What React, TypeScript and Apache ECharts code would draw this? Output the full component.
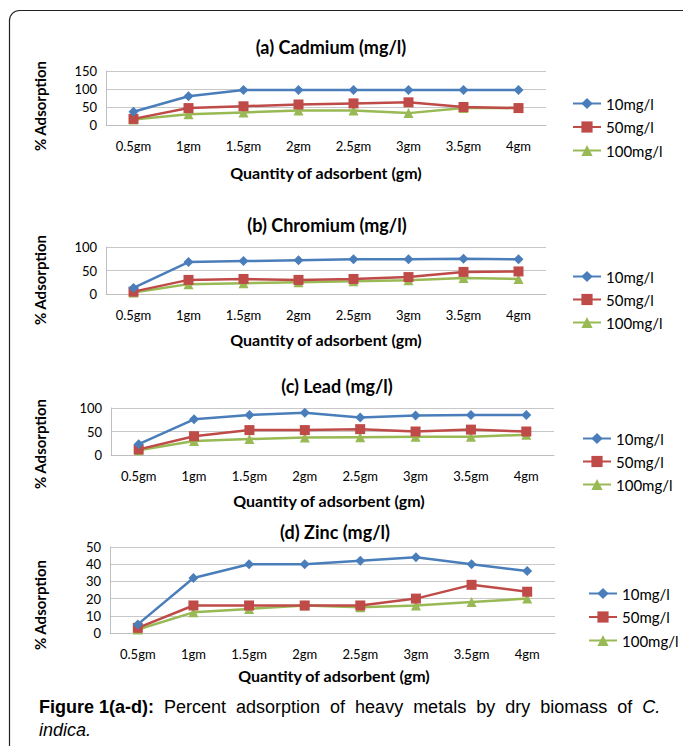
import React, { useEffect, useRef } from "react";
import * as echarts from "echarts";

const categories = ["0.5gm", "1gm", "1.5gm", "2gm", "2.5gm", "3gm", "3.5gm", "4gm"];
const seriesNames = ["10mg/l", "50mg/l", "100mg/l"];

const cadmium10 = [37, 80, 97, 97, 97, 97, 97, 97];
const cadmium50 = [17, 47, 52, 57, 60, 63, 50, 47];
const cadmium100 = [15, 30, 35, 40, 40, 33, 47, 47];

const chromium10 = [13, 68, 70, 72, 74, 74, 75, 74];
const chromium50 = [5, 30, 32, 30, 32, 36, 47, 48];
const chromium100 = [3, 21, 23, 25, 27, 29, 34, 32];

const lead10 = [23, 76, 85, 90, 80, 84, 85, 85];
const lead50 = [12, 40, 53, 53, 55, 50, 54, 50];
const lead100 = [10, 30, 34, 37, 38, 39, 39, 43];

const zinc10 = [5, 32, 40, 40, 42, 44, 40, 36];
const zinc50 = [3, 16, 16, 16, 16, 20, 28, 24];
const zinc100 = [2, 12, 14, 16, 15, 16, 18, 20];

const panelTitles = ["(a) Cadmium (mg/l)", "(b) Chromium (mg/l)", "(c) Lead (mg/l)", "(d) Zinc (mg/l)"];
const yMax = [150, 100, 100, 50];
const yInterval = [50, 50, 50, 10];
const xAxisTitle = "Quantity of adsorbent (gm)";
const yAxisTitle = "% Adsorption";
const captionWords = ["Percent", "adsorption", "of", "heavy", "metals", "by", "dry", "biomass", "of"];

const panelData = [
  [cadmium10, cadmium50, cadmium100],
  [chromium10, chromium50, chromium100],
  [lead10, lead50, lead100],
  [zinc10, zinc50, zinc100],
];

const COLORS = ["#4A7EBB", "#BE4B48", "#98B954"];
const SYMBOLS = ["diamond", "rect", "triangle"];
const SYMBOL_SIZES = [10, 10, 10];

// layout per panel
const grids = [
  { left: 106, width: 440, top: 71, height: 54 },
  { left: 106, width: 440, top: 247, height: 47 },
  { left: 111, width: 443, top: 408, height: 47 },
  { left: 110, width: 445, top: 547, height: 86 },
];
const titleY = [47, 225, 386, 532];
const titleX = [331, 327, 337, 335];
const xTitleY = [172, 339, 500, 675];
const xTitleX = [326, 326, 329, 334];
const yTitleY = [106, 280, 444, 605];
const legendPos = [
  { left: 567, top: 91, gap: 8.5 },
  { left: 567, top: 264, gap: 8 },
  { left: 577, top: 426, gap: 8 },
  { left: 583, top: 581, gap: 8.5 },
];

const FONT = "Lato";
const CAP_FONT = "'Liberation Sans'";

export default function App() {
  const ref = useRef<HTMLDivElement>(null);
  useEffect(() => {
    if (!ref.current) return;
    const chart = echarts.init(ref.current, undefined, { renderer: "svg" });

    const series: any[] = [];
    panelData.forEach((group, p) => {
      group.forEach((vals, s) => {
        series.push({
          type: "line",
          name: seriesNames[s],
          xAxisIndex: p,
          yAxisIndex: p,
          data: vals,
          symbol: SYMBOLS[s],
          symbolSize: SYMBOL_SIZES[s],
          itemStyle: { color: COLORS[s] },
          lineStyle: { color: COLORS[s], width: 2.5 },
          z: 10 - s,
        });
      });
    });

    const graphic: any[] = [
      { type: "line", shape: { x1: 19, y1: 10.5, x2: 683, y2: 10.5 }, style: { stroke: "#222", lineWidth: 1.2 } },
      { type: "line", shape: { x1: 9.5, y1: 20, x2: 9.5, y2: 746 }, style: { stroke: "#222", lineWidth: 1.2 } },
      {
        type: "arc",
        shape: { cx: 19.5, cy: 20.5, r: 10, startAngle: Math.PI, endAngle: Math.PI * 1.5 },
        style: { stroke: "#222", lineWidth: 1.2, fill: "none" },
      },
    ];
    panelTitles.forEach((t, p) => {
      graphic.push({
        type: "text",
        x: titleX[p],
        y: titleY[p],
        style: { text: t, font: `bold 18px ${FONT}`, fill: "#000", textAlign: "center", textVerticalAlign: "middle" },
      });
      graphic.push({
        type: "text",
        x: xTitleX[p],
        y: xTitleY[p],
        style: { text: xAxisTitle, font: `bold 16px ${FONT}`, fill: "#000", textAlign: "center", textVerticalAlign: "middle" },
      });
      graphic.push({
        type: "text",
        x: 40,
        y: yTitleY[p],
        rotation: Math.PI / 2,
        style: { text: yAxisTitle, font: `bold 15px ${FONT}`, fill: "#000", textAlign: "center", textVerticalAlign: "middle" },
      });
    });
    const capLine1 =
      "{b|Figure 1(a-d):}{s| }" + captionWords.map((w) => `{n|${w}}`).join("{s| }") + "{s| }{i|C.}";
    graphic.push({
      type: "text",
      x: 39,
      y: 707,
      style: {
        text: capLine1,
        textVerticalAlign: "middle",
        rich: {
          b: { font: `bold 18px ${CAP_FONT}`, fill: "#000" },
          n: { font: `18px ${CAP_FONT}`, fill: "#000" },
          i: { font: `italic 18px ${CAP_FONT}`, fill: "#000" },
          s: { font: `18px ${CAP_FONT}`, width: 10 },
        },
      },
    });
    graphic.push({
      type: "text",
      x: 39,
      y: 730,
      style: { text: "indica.", font: `italic 18px ${CAP_FONT}`, fill: "#000", textVerticalAlign: "middle" },
    });

    chart.setOption({
      animation: false,
      backgroundColor: "#fff",
      grid: grids.map((g) => ({ ...g, containLabel: false })),
      xAxis: grids.map((_, p) => ({
        type: "category",
        gridIndex: p,
        data: categories,
        boundaryGap: true,
        axisLine: { show: true, lineStyle: { color: "#BFBFBF", width: 1 } },
        axisTick: { show: false },
        axisLabel: { color: "#000", fontFamily: FONT, fontSize: 13, margin: 14 },
        splitLine: { show: false },
      })),
      yAxis: grids.map((_, p) => ({
        type: "value",
        gridIndex: p,
        min: 0,
        max: yMax[p],
        interval: yInterval[p],
        axisLine: { show: true, lineStyle: { color: "#BFBFBF", width: 1 } },
        axisTick: { show: false },
        axisLabel: { color: "#000", fontFamily: FONT, fontSize: 13, margin: 9 },
        splitLine: { show: true, lineStyle: { color: "#C8C8C8", width: 1 } },
      })),
      legend: legendPos.map((l) => ({
        orient: "vertical",
        left: l.left,
        top: l.top,
        itemGap: l.gap,
        itemWidth: 28,
        itemHeight: 14,
        data: seriesNames,
        selectedMode: false,
        textStyle: { color: "#000", fontFamily: FONT, fontSize: 15 },
      })),
      series,
      graphic,
    });

    return () => chart.dispose();
  }, []);

  return (
    <div
      ref={ref}
      style={{ position: "absolute", left: 0, top: 0, width: 683, height: 749 }}
    />
  );
}
